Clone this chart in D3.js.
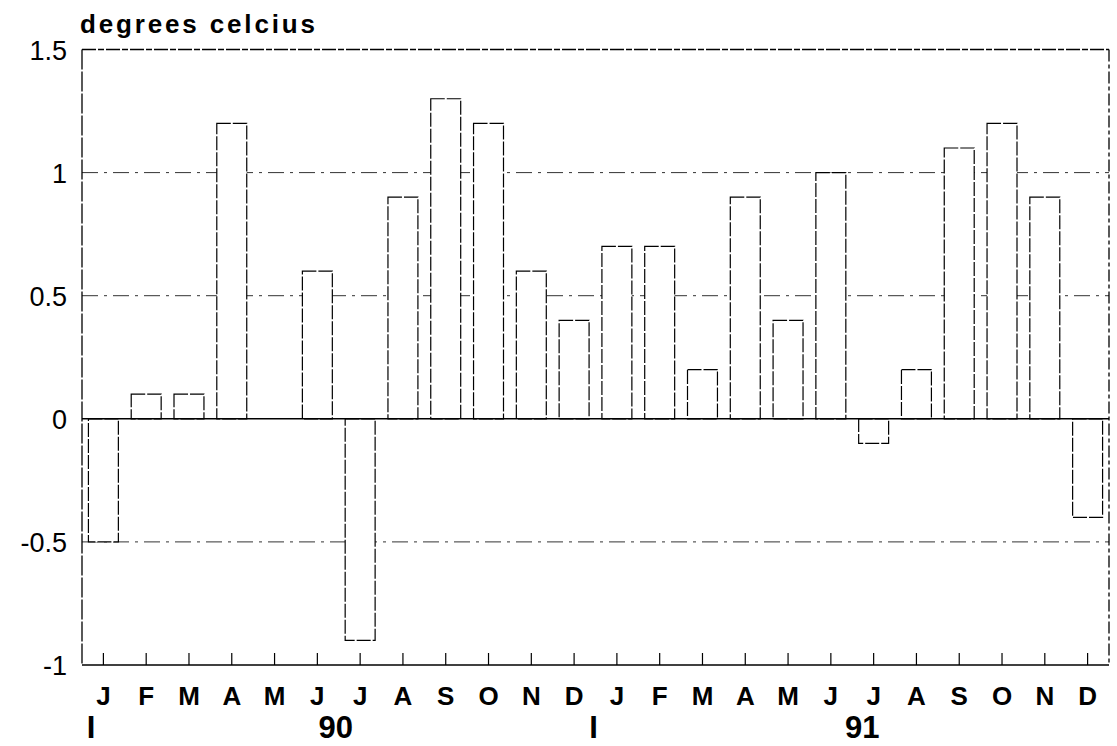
<!DOCTYPE html>
<html>
<head>
<meta charset="utf-8">
<script src="https://cdn.jsdelivr.net/npm/d3@7"></script>
<style>
  html, body { margin: 0; padding: 0; background: #fff; }
  svg { display: block; }
  text { font-family: "Liberation Sans", Arial, sans-serif; fill: #000; }
</style>
</head>
<body>
<svg id="chart" width="1117" height="746"></svg>
<script>
// ---- data ----
const months = ["J","F","M","A","M","J","J","A","S","O","N","D",
                "J","F","M","A","M","J","J","A","S","O","N","D"];
const values = [-0.5, 0.1, 0.1, 1.2, 0, 0.6, -0.9, 0.9, 1.3, 1.2, 0.6, 0.4,
                 0.7, 0.7, 0.2, 0.9, 0.4, 1.0, -0.1, 0.2, 1.1, 1.2, 0.9, -0.4];
const years = ["90", "91"];
const yTickValues = [-1, -0.5, 0, 0.5, 1, 1.5];
const yTickLabels = ["-1", "-0.5", "0", "0.5", "1", "1.5"];
const gridValues = [-0.5, 0.5, 1];
const yTitle = "degrees celcius";

// ---- layout ----
const svg = d3.select("#chart");
const plotL = 82, plotR = 1109, plotT = 49.5, plotB = 665;

const idx = months.map((m, i) => i);
const x = d3.scaleBand().domain(idx).range([plotL, plotR]).paddingInner(0.3).paddingOuter(0.15);
const xb = d3.scaleBand().domain(idx).range([plotL, plotR]); // full month bands
const y = d3.scaleLinear().domain([-1, 1.5]).range([plotB, plotT]);

// grid lines (dash-dot)
svg.append("g").selectAll("line").data(gridValues).join("line")
  .attr("x1", plotL).attr("x2", plotR)
  .attr("y1", d => y(d)).attr("y2", d => y(d))
  .attr("stroke", "#333").attr("stroke-width", 1)
  .attr("stroke-dasharray", "16,6,3,6");

// frame: top and right dashed, left dashed lightly, bottom solid
svg.append("line").attr("x1", plotL).attr("x2", plotR).attr("y1", y(1.5)).attr("y2", y(1.5))
  .attr("stroke", "#000").attr("stroke-width", 1.3).attr("stroke-dasharray", "14,2,6,2");
svg.append("line").attr("x1", plotR).attr("x2", plotR).attr("y1", y(1.5)).attr("y2", y(-1))
  .attr("stroke", "#000").attr("stroke-width", 1.3).attr("stroke-dasharray", "12,3,4,3");
svg.append("line").attr("x1", plotL).attr("x2", plotL).attr("y1", y(1.5)).attr("y2", y(-1))
  .attr("stroke", "#000").attr("stroke-width", 1.3).attr("stroke-dasharray", "20,2");
svg.append("line").attr("x1", plotL).attr("x2", plotR).attr("y1", y(-1)).attr("y2", y(-1))
  .attr("stroke", "#000").attr("stroke-width", 1.6);

// bars
svg.append("g").selectAll("rect").data(values.map((v, i) => ({v, i})).filter(d => d.v !== 0)).join("rect")
  .attr("x", d => x(d.i))
  .attr("width", x.bandwidth())
  .attr("y", d => y(Math.max(0, d.v)))
  .attr("height", d => Math.abs(y(d.v) - y(0)))
  .attr("fill", "#fff")
  .attr("stroke", "#000").attr("stroke-width", 1.2)
  .attr("stroke-dasharray", "14,2");

// zero line
svg.append("line").attr("x1", plotL).attr("x2", plotR).attr("y1", y(0)).attr("y2", y(0))
  .attr("stroke", "#000").attr("stroke-width", 1.6);

// bottom ticks (upward, at month centres)
svg.append("g").selectAll("line").data(idx).join("line")
  .attr("x1", d => xb(d) + xb.bandwidth() / 2).attr("x2", d => xb(d) + xb.bandwidth() / 2)
  .attr("y1", y(-1)).attr("y2", y(-1) - 12)
  .attr("stroke", "#000").attr("stroke-width", 1.2);

// y axis labels
const yAxis = d3.axisLeft(y).tickValues(yTickValues)
  .tickFormat((d, i) => yTickLabels[i]).tickSize(0).tickPadding(15);
const gy = svg.append("g").attr("transform", `translate(${plotL},0)`).call(yAxis);
gy.select(".domain").remove();
gy.selectAll("text").style("font-size", "27px").style("font-family", "'Liberation Sans', Arial, sans-serif")
  .attr("fill", "#000").attr("dy", "0.36em");

// month labels
svg.append("g").selectAll("text").data(months).join("text")
  .attr("x", (d, i) => xb(i) + xb.bandwidth() / 2)
  .attr("y", 705)
  .attr("text-anchor", "middle")
  .style("font-size", "26px").style("font-weight", "bold")
  .text(d => d);

// year markers and labels
const markerOffset = [9, -2];
const yearOffset = [-3, 10];
years.forEach((yr, k) => {
  const start = xb(k * 12);
  const end = xb(k * 12 + 11) + xb.bandwidth();
  svg.append("text").attr("x", start + markerOffset[k]).attr("y", 738)
    .attr("text-anchor", "middle").style("font-size", "31px").style("font-weight", "bold").text("I");
  svg.append("text").attr("x", (start + end) / 2 + yearOffset[k]).attr("y", 738)
    .attr("text-anchor", "middle").style("font-size", "31px").style("font-weight", "bold").text(yr);
});

// y title
svg.append("text").attr("x", 80).attr("y", 33)
  .attr("textLength", 235).attr("lengthAdjust", "spacing")
  .style("font-size", "26px").style("font-weight", "bold").text(yTitle);
</script>
</body>
</html>
